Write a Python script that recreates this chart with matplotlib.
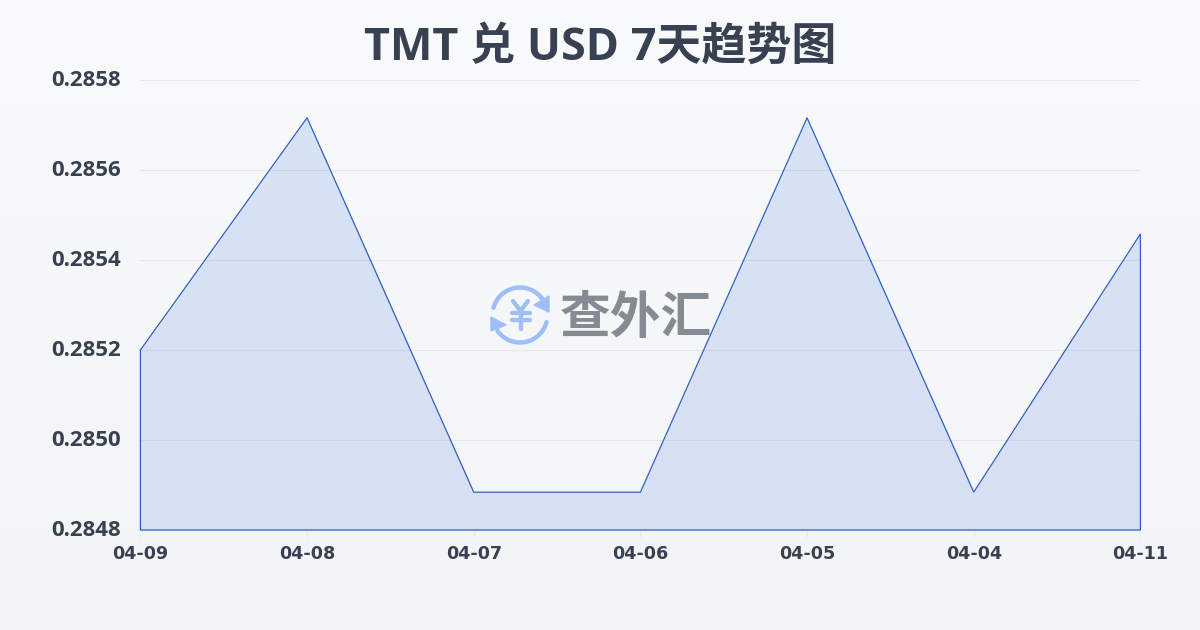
import numpy as np
import matplotlib
matplotlib.use("Agg")
import matplotlib.pyplot as plt
from matplotlib.patches import Arc, Polygon
from matplotlib.transforms import Affine2D

dates = ["04-09", "04-08", "04-07", "04-06", "04-05", "04-04", "04-11"]
rates = [0.28520, 0.285716, 0.284884, 0.284884, 0.285716, 0.284884, 0.285458]
yticks = [0.2848, 0.2850, 0.2852, 0.2854, 0.2856, 0.2858]
title = "TMT 兑 USD 7天趋势图"
mark = "查外汇"

plt.rcParams['font.family'] = ['Open Sans', 'Noto Sans CJK SC', 'DejaVu Sans']
W, H = 1200, 630
fig = plt.figure(figsize=(W/100, H/100), dpi=100)

bg = fig.add_axes([0, 0, 1, 1], zorder=0)
bg.axis('off')
grad = np.linspace(0, 1, 256)[:, None, None]
top = np.array([0xf9, 0xfa, 0xfc]) / 255
bot = np.array([0xf3, 0xf4, 0xf6]) / 255
bg.imshow(top + grad * (bot - top), aspect='auto', extent=[0, W, H, 0])
bg.set_xlim(0, W); bg.set_ylim(H, 0)

# watermark
blue = '#9dbff5'
cx, cy, r = 520, 315, 27.5
bg.add_patch(Arc((cx, cy), 2*r, 2*r, theta1=195, theta2=325, color=blue, lw=3.2, capstyle='round'))
bg.add_patch(Arc((cx, cy), 2*r, 2*r, theta1=15, theta2=145, color=blue, lw=3.2, capstyle='round'))
bg.add_patch(Polygon([[549, 296], [549, 312], [534, 305]], color=blue))
bg.add_patch(Polygon([[491, 331], [491, 317], [506, 325]], color=blue))
yen = dict(color=blue, lw=3.1, solid_capstyle='round')
bg.plot([513, 520.5, 528], [301, 311, 301], **yen)
bg.plot([511.5, 529.5], [313, 313], **yen)
bg.plot([511.5, 529.5], [320, 320], **yen)
bg.plot([520.5, 520.5], [311, 329], **yen)
bg.set_xlim(0, W); bg.set_ylim(H, 0)
bg.text(636, 318, mark, color='#858a93', fontsize=36.5, fontweight='bold', family=['Noto Sans CJK SC'], ha='center', va='center')

ax = fig.add_axes([140.4/W, 1-530/H, 1000/W, 450/H], zorder=1)
ax.patch.set_alpha(0)
x = np.arange(len(dates))
ax.fill_between(x, rates, 0.2848, color='#4f82e0', alpha=0.18, lw=0)
ax.plot(list(x) + [x[-1], x[0], x[0]], rates + [0.2848, 0.2848, rates[0]], color='#2f5fc4', lw=0.9,
        solid_joinstyle='miter', clip_on=False)
ax.set_xlim(0, len(dates)-1)
ax.set_ylim(0.2848, 0.2858)
ax.set_xticks(x, dates)
ax.set_yticks(yticks, [f"{v:.4f}" for v in yticks])
ax.grid(axis='y', color='#e5e7eb', lw=0.8)
ax.set_axisbelow(True)
for s in ax.spines.values():
    s.set_visible(False)
ax.tick_params(axis='y', length=0, pad=14, labelcolor='#374151')
ax.tick_params(axis='x', length=5, width=0.8, color='#eee8d8', pad=6, labelcolor='#374151')
for t in ax.get_yticklabels():
    t.set_fontsize(16); t.set_fontweight('bold')
    t.set_transform(t.get_transform() + Affine2D().translate(0, 2))
for t in ax.get_xticklabels():
    t.set_fontsize(12.6); t.set_fontweight('bold'); t.set_family(['DejaVu Sans'])

fig.text(0.5, 1-48/H, title, ha='center', va='center', fontsize=32.4, fontweight='bold', color='#374151')
fig.savefig("out.png", dpi=100)
